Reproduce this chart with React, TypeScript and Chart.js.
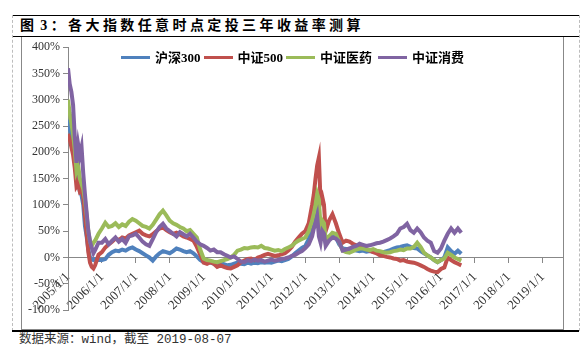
import React, { useEffect, useRef } from "react";
import { Chart, registerables } from "chart.js";

Chart.register(...registerables);

// x positions in fractional years (start date of the 3-year investment)
const years = [
  2005.0, 2005.05, 2005.1, 2005.15, 2005.2, 2005.25, 2005.3, 2005.35, 2005.4, 2005.45, 2005.5, 2005.55, 2005.6, 2005.65, 2005.7, 2005.75, 2005.8, 2005.9,
  2006.0, 2006.1, 2006.2, 2006.3, 2006.4, 2006.5, 2006.6, 2006.7, 2006.8, 2006.9,
  2007.0, 2007.1, 2007.2, 2007.3, 2007.4, 2007.5, 2007.6, 2007.7, 2007.8, 2007.9,
  2008.0, 2008.1, 2008.2, 2008.3, 2008.4, 2008.5, 2008.6, 2008.7, 2008.8, 2008.9,
  2009.0, 2009.1, 2009.2, 2009.3, 2009.4, 2009.5, 2009.6, 2009.7, 2009.8, 2009.9,
  2010.0, 2010.1, 2010.2, 2010.3, 2010.4, 2010.5, 2010.6, 2010.7, 2010.8, 2010.9,
  2011.0, 2011.1, 2011.2, 2011.3, 2011.4, 2011.5, 2011.6, 2011.7, 2011.8, 2011.9,
  2012.0, 2012.1, 2012.2, 2012.25, 2012.3, 2012.35, 2012.4, 2012.45, 2012.5, 2012.55, 2012.6, 2012.7, 2012.8, 2012.9,
  2013.0, 2013.1, 2013.2, 2013.3, 2013.4, 2013.5, 2013.6, 2013.7, 2013.8, 2013.9,
  2014.0, 2014.1, 2014.2, 2014.3, 2014.4, 2014.5, 2014.6, 2014.7, 2014.8, 2014.9,
  2015.0, 2015.1, 2015.2, 2015.3, 2015.4, 2015.5, 2015.6, 2015.7, 2015.8, 2015.9,
  2016.0, 2016.1, 2016.2, 2016.3, 2016.4, 2016.5, 2016.6,
];

// 沪深300
const hs300 = [
  262, 245, 230, 215, 190, 150, 145, 125, 118, 100, 60, 40, 15, 0, -4, -5, -3, -5,
  -5, -3, 5, 10, 13, 12, 15, 13, 17, 19,
  15, 12, 8, 4, 0, -6, 2, 8, 12, 10,
  8, 12, 17, 15, 12, 10, 12, 8, 2, -5,
  -9, -8, -10, -12, -12, -10, -13, -15, -14, -12,
  -10, -12, -13, -10, -12, -10, -11, -9, -10, -9,
  -10, -8, -6, -7, -5, -3, 2, 8, 13, 18,
  22, 35, 55, 75, 95, 100, 80, 50, 51, 45, 28, 35, 40, 38,
  25, 17, 16, 15, 14, 13, 12, 13, 11, 12,
  11, 10, 9, 10, 12, 14, 17, 19, 20, 22,
  23, 20, 18, 17, 12, 8, 4, 0, -5, -9,
  -5, 0, 19, 12, 7, 13, 7,
];

// 中证500
const zz500 = [
  235, 225, 210, 195, 170, 135, 140, 125, 128, 115, 80, 45, 10, -10, -18, -21, -15, 5,
  10, 19, 25, 30, 36, 33, 38, 36, 42, 45,
  48, 51, 45, 42, 40, 44, 50, 55, 57, 52,
  48, 45, 47, 44, 40, 38, 35, 32, 20, 5,
  -10, -12, -9, -12, -18, -15, -18, -20, -21, -18,
  -15, -9, -6, -3, -2, -5, 0, 2, 5, 7,
  5, 3, 4, 6, 8, 13, 20, 30, 38, 45,
  50, 65, 100, 120, 150, 175, 190, 105, 115, 100, 50, 70, 82, 65,
  45, 28, 32, 30, 26, 23, 22, 20, 16, 13,
  10, 8, 4, 3, 1, 0, -2, -3, -6, -5,
  -8, -9, -10, -12, -15, -18, -22, -25, -27, -28,
  -22, -19, 0, -5, -9, -12, -15,
];

// 中证医药
const zzyy = [
  300, 275, 255, 235, 205, 165, 175, 150, 140, 130, 110, 80, 50, 30, 22, 28, 32, 45,
  55, 66, 58, 60, 65, 58, 63, 60, 68, 73,
  70, 65, 60, 58, 55, 62, 72, 82, 89, 80,
  70, 65, 62, 58, 55, 50, 52, 45, 38, 15,
  -2, -5, -6, -8, -9, -7, -5, -3, 0, 5,
  13, 15, 18, 17, 19, 20, 19, 22, 18, 17,
  15, 13, 14, 12, 16, 19, 22, 28, 32, 35,
  38, 50, 70, 83, 100, 121, 110, 57, 70, 65, 35, 40, 47, 45,
  30, 13, 10, 9, 12, 15, 17, 17, 15, 14,
  16, 13, 12, 10, 9, 10, 12, 13, 15, 14,
  17, 17, 20, 28, 20, 9, 4, 0, -5, -9,
  -5, -2, 9, 5, 0, -3, -6,
];

// 中证消费
const zzxf = [
  360, 330, 315, 290, 230, 180, 215, 195, 210, 160, 120, 85, 50, 30, 18, 8, 14, 28,
  28, 35, 25, 32, 38, 30, 35, 28, 40, 42,
  45, 38, 30, 25, 22, 35, 48, 58, 64, 55,
  50, 45, 40, 48, 44, 40, 45, 38, 30, 25,
  22, 18, 13, 15, 10, 10, 6, 3, 0, 2,
  -3, -8, -9, -5, -7, -4, -6, -5, -8, -6,
  -4, -6, -5, -3, -2, 0, 3, 5, 9, 12,
  18, 25, 40, 55, 65, 78, 40, 28, 50, 45, 22, 32, 38, 36,
  30, 13, 15, 17, 20, 22, 26, 24, 22, 23,
  25, 27, 28, 30, 33, 36, 40, 45, 55, 58,
  64, 52, 47, 55, 48, 38, 32, 28, 12, 9,
  17, 32, 45, 55, 47, 55, 47,
];

const seriesNames = ["沪深300", "中证500", "中证医药", "中证消费"];
const seriesColors = ["#4F81BD", "#C0504D", "#9BBB59", "#8064A2"];
const yTicks = [-100, -50, 0, 50, 100, 150, 200, 250, 300, 350, 400];
const xTickYears = [2005, 2006, 2007, 2008, 2009, 2010, 2011, 2012, 2013, 2014, 2015, 2016, 2017, 2018, 2019];
const xMin = 2005;
const xMax = 2019.6;

const titleText = "图 3：各大指数任意时点定投三年收益率测算";
const footerText = "数据来源：wind，截至 2019-08-07";

const yFont = { family: '"Liberation Serif", "Noto Sans CJK SC", serif', size: 12 };
const xFont = { family: '"Liberation Serif", "Noto Sans CJK SC", serif', size: 13 };

export default function App() {
  const ref = useRef<HTMLCanvasElement>(null);

  useEffect(() => {
    document.body.style.margin = "0";
    const canvas = ref.current;
    if (!canvas) return;
    const all = [hs300, zz500, zzyy, zzxf];
    const chart = new Chart(canvas, {
      type: "line",
      data: {
        datasets: all.map((s, i) => ({
          label: seriesNames[i],
          data: years.map((x, j) => ({ x, y: s[j] })),
          borderColor: seriesColors[i],
          backgroundColor: seriesColors[i],
          borderWidth: 4,
          pointRadius: 0,
          tension: 0,
          order: 4 - i,
        })),
      },
      options: {
        animation: false,
        responsive: false,
        maintainAspectRatio: false,
        devicePixelRatio: 1,
        layout: { padding: { top: 9, bottom: 19, left: 0, right: 0 } },
        plugins: { legend: { display: false }, tooltip: { enabled: false } },
        scales: {
          x: {
            type: "linear",
            min: xMin,
            max: xMax,
            position: { y: 0 },
            afterBuildTicks: (s: any) => {
              s.ticks = xTickYears.map((v) => ({ value: v }));
            },
            afterFit: (s: any) => {
              s.height = 0;
              s.paddingLeft = 0;
              s.paddingRight = 0;
            },
            ticks: {
              autoSkip: false,
              minRotation: 45,
              maxRotation: 45,
              padding: 7,
              color: "#333",
              font: xFont,
              callback: (v: any) => `${v}/1/1`,
            },
            grid: { drawOnChartArea: false, drawTicks: true, tickLength: 5, color: "#888" },
            border: { display: true, color: "#888", width: 1 },
          },
          y: {
            type: "linear",
            min: -100,
            max: 400,
            afterBuildTicks: (s: any) => {
              s.ticks = yTicks.map((v) => ({ value: v }));
            },
            afterFit: (s: any) => {
              s.width = 46;
            },
            ticks: {
              padding: 3,
              color: "#333",
              font: yFont,
              callback: (v: any) => `${v}%`,
            },
            grid: { drawOnChartArea: false, drawTicks: true, tickLength: 5, color: "#888" },
            border: { display: true, color: "#888", width: 1 },
          },
        },
      },
    } as any);
    return () => chart.destroy();
  }, []);

  const cjkBold = '"Liberation Serif", "Noto Sans CJK SC", serif';

  return (
    <div style={{ position: "relative", width: 588, height: 363, background: "#fff", overflow: "hidden" }}>
      {/* frame lines */}
      <div style={{ position: "absolute", left: 12, top: 15, width: 567, height: 1, background: "#000" }} />
      <div style={{ position: "absolute", left: 12, top: 36, width: 567, height: 1, background: "#000" }} />
      <div style={{ position: "absolute", left: 12, top: 15, height: 316, borderLeft: "1px dashed #bdbdbd" }} />
      <div style={{ position: "absolute", left: 579, top: 15, height: 316, borderLeft: "1px dashed #bdbdbd" }} />
      <div
        style={{
          position: "absolute",
          left: 21,
          top: 37,
          width: 543,
          height: 293,
          boxSizing: "border-box",
          borderLeft: "1px solid #888",
          borderRight: "1px solid #888",
          borderBottom: "1px solid #888",
        }}
      />
      <div style={{ position: "absolute", left: 12, top: 330, width: 567, height: 1.5, background: "#000" }} />

      {/* title */}
      <div
        style={{
          position: "absolute",
          left: 20,
          top: 16,
          height: 19,
          lineHeight: "19px",
          fontSize: 14,
          fontWeight: "bold",
          letterSpacing: "3.4px",
          wordSpacing: "-4px",
          whiteSpace: "nowrap",
          color: "#000",
          fontFamily: cjkBold,
        }}
      >
        {titleText}
      </div>

      <canvas
        ref={ref}
        width={541}
        height={292}
        style={{ position: "absolute", left: 22, top: 37, width: 541, height: 292 }}
      />

      {/* legend */}
      <div style={{ position: "absolute", left: 121, top: 50, height: 15, display: "flex", alignItems: "center" }}>
        {seriesNames.map((n, i) => (
          <div key={n} style={{ display: "flex", alignItems: "center", marginRight: i === 2 ? 6 : 3 }}>
            <span style={{ display: "inline-block", width: 29, height: 3, background: seriesColors[i], marginRight: 5 }} />
            <span
              style={{
                fontFamily: cjkBold,
                fontWeight: "bold",
                fontSize: 13,
                lineHeight: "15px",
                color: "#000",
                whiteSpace: "nowrap",
              }}
            >
              {n}
            </span>
          </div>
        ))}
      </div>

      {/* footer */}
      <div
        style={{
          position: "absolute",
          left: 19,
          top: 332,
          lineHeight: "16px",
          fontSize: 12.5,
          color: "#333",
          whiteSpace: "nowrap",
          fontFamily: '"Liberation Mono", "Noto Sans CJK SC", monospace',
        }}
      >
        {footerText}
      </div>
    </div>
  );
}
